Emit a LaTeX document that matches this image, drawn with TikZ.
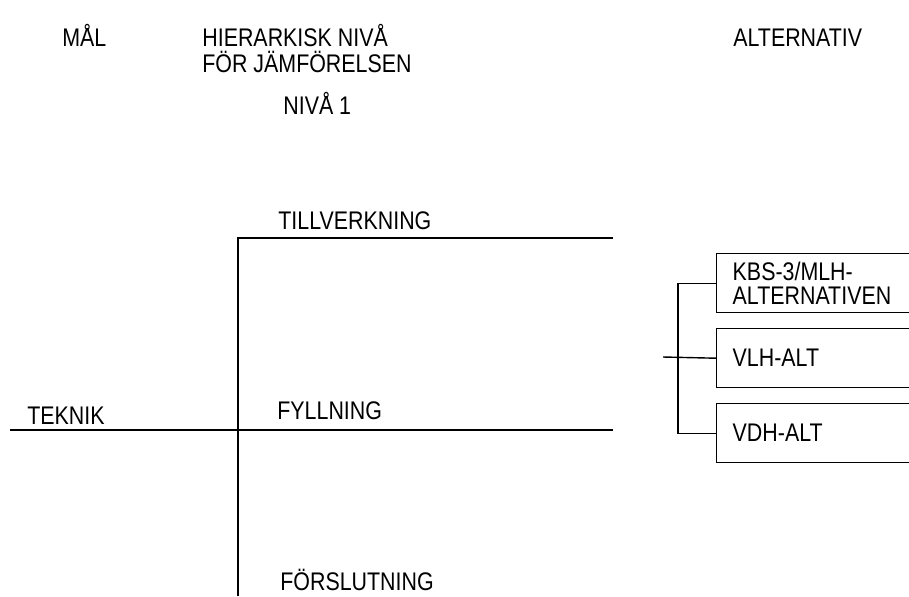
\documentclass[tikz,border=0pt]{standalone}
\usepackage{fontspec}
\setmainfont{Liberation Sans}[FakeStretch=0.84]
\usetikzlibrary{positioning}

\begin{document}
\begin{tikzpicture}[
    x=0.02cm, y=-0.02cm,
    head/.style={anchor=base west, inner sep=0pt, align=left, font=\fontsize{14.5}{14.7}\selectfont},
    lbl/.style={anchor=base west, inner sep=0pt, font=\fontsize{14.5}{14.5}\selectfont},
    altbox/.style={draw, line width=0.8pt, anchor=north west, minimum height=1.18cm, inner xsep=0.32cm,
        text width=3.6cm, align=left, font=\fontsize{14.5}{13.5}\selectfont},
    link/.style={line width=0.8pt},
]
\useasboundingbox (0,0) rectangle (909,596);

% rubriker
\node[head] (mal)  at (62,46)  {MÅL};
\node[head, anchor=north west] (niva) at (202,24) {HIERARKISK NIVÅ\\FÖR JÄMFÖRELSEN};
\node[head] (alt)  at (733,46) {ALTERNATIV};
\node[head] (niva1) at (283,114) {NIVÅ 1};

% nivå 1
\node[lbl] (teknik) at (27,424)  {TEKNIK};
\node[lbl] (tillv)  at (278,229) {TILLVERKNING};
\node[lbl] (fyll)   at (277,419) {FYLLNING};
\node[lbl] (forsl)  at (280,590) {FÖRSLUTNING};

\coordinate (top)   at (238,238);
\coordinate (bot)   at (238,596);
\coordinate (tillvend) at (613,238);
\coordinate (start) at (10,430);
\coordinate (fyllend)  at (613,430);

\draw[link] (bot) -- (top) -- (tillvend);
\draw[link] (start) -- (fyllend);

% alternativ
\node[altbox] (kbs) at (716,253) {KBS-3/MLH-\\ALTERNATIVEN};
\node[altbox] (vlh) at (716,328) {VLH-ALT};
\node[altbox] (vdh) at (716,403) {VDH-ALT};

\coordinate (stub) at (663,357);
\coordinate (fork) at (678,357);

\draw[link] (stub) -- (vlh.west);
\draw[link] (kbs.west) -| (fork) |- (vdh.west);

\end{tikzpicture}
\end{document}
